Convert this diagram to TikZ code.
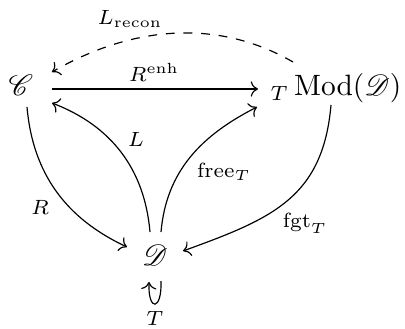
\documentclass[tikz,border=0pt]{standalone}
\usepackage{amsmath}
\usepackage{mathrsfs}
\usetikzlibrary{arrows.meta}
\begin{document}
\begin{tikzpicture}[x=0.34pt,y=0.34pt, >={Computer Modern Rightarrow}, line width=0.4pt,
  obj/.style={inner sep=0pt, anchor=base},
  lab/.style={inner sep=0pt, anchor=base}]
\useasboundingbox (0,0) rectangle (405,328);
\node[obj] (C) at (21,232) {$\mathscr{C}$};
\node[obj] (M) at (336,232) {${}_T\operatorname{Mod}(\mathscr{D})$};
\node[obj] (D) at (155,63) {$\mathscr{D}$};
% arrows
\draw[->] ([shift={(31,7)}]C.base) -- ([shift={(-78,7)}]M.base);
\draw[->] ([shift={(6,-11)}]C.base) to[out=-85,in=155] ([shift={(-28,18)}]D.base);
\draw[->] ([shift={(-5,-9)}]M.base) to[out=-95,in=20,looseness=1.15] ([shift={(28,14)}]D.base);
\draw[->] ([shift={(-5,33)}]D.base) to[out=95,in=-21] ([shift={(31,-7)}]C.base);
\draw[->] ([shift={(6,33)}]D.base) to[out=85,in=207] ([shift={(-79,-11)}]M.base);
\draw[->,dashed] ([shift={(-43,34)}]M.base) to[out=150,in=30,looseness=0.95] ([shift={(31,24)}]C.base);
\draw[->] ([shift={(6,-16)}]D.base) .. controls +(1,-30) and +(-1,-30) .. ([shift={(-6,-17)}]D.base);
% labels
\node[lab] (lrecon) at (130,303) {$\scriptstyle L_{\mathrm{recon}}$};
\node[lab] (lrenh) at (154,246) {$\scriptstyle R^{\mathrm{enh}}$};
\node[lab] (ll) at (136,181) {$\scriptstyle L$};
\node[lab] (lfree) at (224,150) {$\scriptstyle \mathrm{free}_T$};
\node[lab] (lr) at (40,113) {$\scriptstyle R$};
\node[lab] (lfgt) at (305,100) {$\scriptstyle \mathrm{fgt}_T$};
\node[lab] (lt) at (155,3) {$\scriptstyle T$};
\end{tikzpicture}
\end{document}
